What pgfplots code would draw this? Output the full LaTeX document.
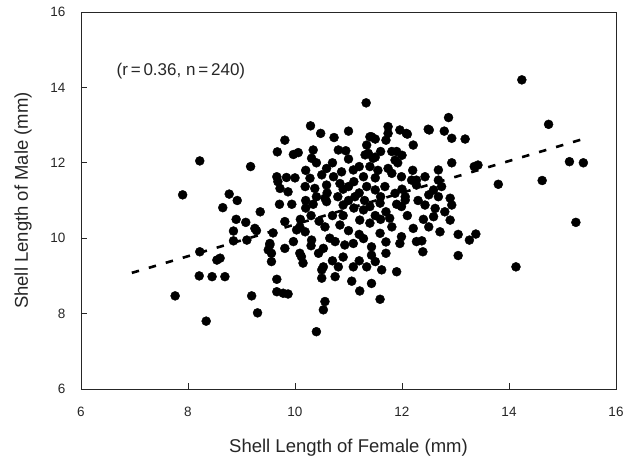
\documentclass[border=0pt]{standalone}
\usepackage{pgfplots}
\pgfplotsset{compat=1.18}
\usepackage{fontspec}
\setmainfont{Liberation Sans}
\usetikzlibrary{calc}
\begin{document}
\begin{tikzpicture}
\begin{axis}[
  scale only axis,
  width=535pt, height=377pt,
  xmin=6, xmax=16, ymin=6, ymax=16,
  xtick={6,8,10,12,14,16}, ytick={6,8,10,12,14,16},
  tick align=inside,
  xtick pos=bottom, ytick pos=left,
  major tick length=6pt,
  axis line style={line width=0.9pt, black!85},
  tick style={line width=0.9pt, black!85},
  /pgf/number format/assume math mode=true,
  ticklabel style={font=\fontsize{13.5}{15}\selectfont, text=black!85},
  xticklabel style={yshift=-15pt},
  yticklabel style={xshift=-12pt},
  xlabel={Shell Length of Female (mm)},
  ylabel={Shell Length of Male (mm)},
  label style={font=\fontsize{18.5}{22}\selectfont, text=black!85},
  xlabel style={at={($(axis description cs:0.5,0)+(0,-64pt)$)}, anchor=base},
  ylabel style={at={($(axis description cs:0,0.5)+(-53pt,0)$)}, anchor=base, rotate=0},
  clip=false,
]
\addplot[black, line width=2.6pt, dash pattern=on 7.5pt off 10.2pt] coordinates {(6.95,9.08) (15.36,12.62)};
\addplot[only marks, mark=*, mark size=4.5pt, black, mark options={fill=black, draw=black}] table {
x y
7.76 8.47
8.34 7.80
8.22 12.05
7.90 11.15
8.77 11.17
8.92 11.00
8.65 10.81
8.90 10.50
8.85 10.19
8.85 9.93
8.22 9.64
8.54 9.42
8.60 9.47
8.21 9.00
8.45 8.98
8.69 8.98
9.10 9.95
9.25 10.26
9.28 10.20
9.19 8.47
9.30 8.02
9.08 10.42
9.35 10.70
9.17 11.90
9.66 8.91
9.66 8.58
9.78 8.54
9.87 8.52
9.53 9.82
9.56 9.60
9.56 9.38
9.81 9.73
9.59 10.14
9.97 9.91
10.09 10.30
10.12 9.51
10.15 9.34
10.31 9.95
10.40 7.52
9.71 10.90
9.94 10.90
10.34 10.90
9.81 10.44
10.19 10.17
10.03 10.22
9.53 9.86
9.50 9.69
10.09 9.60
10.44 9.60
10.53 9.73
10.50 9.16
10.50 8.94
10.56 8.32
10.53 8.10
10.29 12.98
10.48 12.78
9.81 12.60
9.67 12.29
9.97 12.22
10.06 12.27
10.34 12.34
10.31 12.12
10.59 11.85
9.66 11.63
9.84 11.61
10.28 11.59
10.50 11.68
9.72 11.32
9.87 11.23
10.19 11.37
10.37 11.32
10.59 11.41
10.56 11.06
9.68 11.50
11.33 13.59
10.73 12.67
11.00 12.84
11.74 12.96
11.74 12.78
11.96 12.87
12.10 12.76
12.21 12.47
11.40 12.69
11.50 12.63
11.34 12.47
11.37 12.25
11.46 12.12
10.81 12.34
10.95 12.32
11.31 12.21
11.81 12.30
11.90 12.30
11.87 12.07
10.87 11.76
11.09 11.81
11.28 11.63
11.74 11.85
11.81 11.72
11.99 11.63
12.18 11.54
12.27 11.41
10.72 11.63
10.84 11.45
11.00 11.37
11.34 11.37
11.50 11.28
11.68 11.37
11.87 11.19
12.06 11.10
11.12 11.10
10.59 10.97
10.90 10.88
11.28 10.75
11.40 10.84
11.59 10.93
11.99 10.84
12.06 11.01
10.56 10.30
10.84 10.35
11.21 10.48
11.77 10.53
11.81 10.30
12.21 10.26
11.59 10.13
11.99 10.04
11.96 9.86
10.75 9.91
10.93 9.82
11.09 9.86
11.28 9.99
11.43 9.77
11.43 9.55
11.50 9.38
11.34 9.24
11.62 9.16
11.90 9.11
11.09 9.24
10.81 9.24
10.53 9.24
10.75 8.98
11.06 8.86
11.43 8.80
11.21 8.60
11.59 8.38
12.27 9.91
12.87 13.20
12.51 12.87
12.79 12.84
12.93 12.65
13.18 12.63
12.93 12.00
12.68 11.81
12.43 11.63
12.27 11.54
12.68 11.54
12.74 11.37
12.59 11.28
12.50 11.15
12.90 11.06
13.80 11.43
12.43 10.88
12.62 10.79
12.68 11.10
12.93 10.88
12.59 10.57
12.90 10.48
12.71 10.17
13.05 10.10
13.26 9.95
13.38 10.11
12.37 9.93
12.39 9.64
13.05 9.54
14.13 9.24
14.24 14.20
14.74 13.02
15.13 12.03
15.39 12.00
14.62 11.53
15.25 10.42
13.42 11.94
13.35 11.90
11.43 12.69
11.50 12.15
11.92 12.00
12.49 12.89
12.08 12.78
10.20 11.00
10.40 11.10
10.60 11.20
10.80 11.10
10.90 11.30
11.10 11.50
11.20 11.20
11.30 11.00
11.50 11.60
11.60 11.10
11.70 10.70
11.90 10.90
10.70 10.60
10.90 10.60
11.00 10.20
11.10 10.80
11.40 10.40
11.60 10.50
10.30 10.60
10.10 10.50
10.20 10.80
10.45 10.45
10.65 10.00
11.20 10.10
11.70 9.90
11.50 10.60
12.00 11.30
12.30 11.00
12.40 10.50
12.10 10.60
10.00 11.60
10.20 11.80
10.40 12.00
10.70 12.00
11.00 12.10
11.20 11.90
11.60 12.30
11.70 12.60
12.00 12.20
11.55 11.80
10.90 9.50
11.20 9.40
11.70 9.60
10.30 9.80
10.70 9.40
12.50 10.30
12.80 10.70
12.20 11.80
11.00 11.00
11.40 11.90
};
\node[anchor=west, font=\fontsize{17}{20}\selectfont, text=black!85] at (axis cs:6.6,14.42) {(r\,=\,0.36, n\,=\,240)};
\end{axis}
\path ($(current axis.south west)+(-81pt,-68pt)$) rectangle ($(current axis.north east)+(21pt,12pt)$);
\end{tikzpicture}
\end{document}
